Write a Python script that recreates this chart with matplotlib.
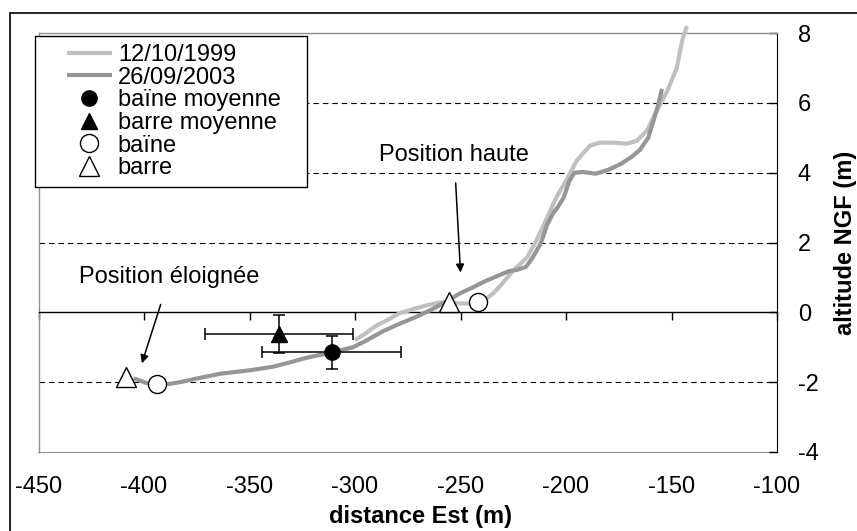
import numpy as np
import matplotlib.pyplot as plt
from matplotlib.patches import Rectangle

plt.rcParams['font.family'] = ['Liberation Sans', 'DejaVu Sans']
plt.rcParams['axes.unicode_minus'] = False

# profil du 12/10/1999 (distance Est, altitude NGF)
x_1999 = [-300, -295, -289.6, -284, -279, -272, -266, -260, -252, -245, -240,
          -237.5, -234, -231, -225, -218.5, -214, -209, -204.5, -200, -195,
          -188.7, -184, -177.6, -171, -166.5, -161.7, -157, -152, -147.5,
          -145, -142.7]
z_1999 = [-0.8, -0.6, -0.37, -0.2, -0.03, 0.1, 0.2, 0.28, 0.26, 0.25, 0.28,
          0.4, 0.57, 0.77, 1.2, 1.57, 2.06, 2.7, 3.3, 3.77, 4.34,
          4.77, 4.86, 4.86, 4.83, 4.91, 5.2, 5.77, 6.34, 7.0,
          7.77, 8.2]

# profil du 26/09/2003
x_2003 = [-405, -399, -394, -388, -383, -373, -364, -350, -339, -330, -323,
          -311, -301, -295, -287, -279, -271, -263, -256, -250, -244, -238,
          -231, -227, -223, -219, -216, -212, -209, -206, -204, -201, -198.5,
          -196, -192, -186, -180, -174, -169, -165, -161, -159, -156.5, -154.5]
z_2003 = [-1.89, -2.02, -2.08, -2.05, -2.0, -1.87, -1.76, -1.66, -1.56, -1.42, -1.3,
          -1.15, -1.0, -0.82, -0.55, -0.33, -0.13, 0.1, 0.34, 0.55, 0.72, 0.9,
          1.08, 1.18, 1.22, 1.3, 1.55, 1.97, 2.5, 2.85, 3.0, 3.3, 3.75,
          4.0, 4.02, 3.97, 4.08, 4.25, 4.45, 4.65, 5.0, 5.4, 5.9, 6.4]

# positions moyennes avec écarts
baine_moy = (-311, -1.15)
baine_moy_err = (33, 0.46)
barre_moy = (-336, -0.63)
barre_moy_err = (35, 0.54)

# positions extrêmes
baine_x = [-394, -241.7]
baine_z = [-2.06, 0.29]
barre_x = [-408.5, -255.5]
barre_z = [-1.86, 0.29]

grid_levels = [-2, 2, 4, 6]

fig = plt.figure(figsize=(8.57, 5.31), dpi=100)
ax = fig.add_axes([38.5 / 857, 79 / 531, 738.5 / 857, 419 / 531])

# cadre extérieur
fig.patches.append(Rectangle((10 / 857, -0.05), 1.0, 0.05 + 518 / 531,
                             transform=fig.transFigure, fill=False,
                             edgecolor='black', linewidth=1.2))

ax.set_xlim(-450, -100)
ax.set_ylim(-4, 8)

ax.hlines(grid_levels, -450, -100, colors='black', linestyles=(0, (5, 3.5)),
          linewidth=0.8, zorder=1)

l1999, = ax.plot(x_1999, z_1999, color='#c0c0c0', linewidth=3, label='12/10/1999',
                 zorder=3, clip_on=False, solid_capstyle='butt')
l2003, = ax.plot(x_2003, z_2003, color='#969696', linewidth=3, label='26/09/2003',
                 zorder=3, solid_capstyle='butt')

eb1 = ax.errorbar(*baine_moy, xerr=baine_moy_err[0], yerr=baine_moy_err[1],
                  fmt='o', color='black', markersize=11, elinewidth=1.1,
                  capsize=4.3, capthick=1.1, zorder=4)
eb2 = ax.errorbar(*barre_moy, xerr=barre_moy_err[0], yerr=barre_moy_err[1],
                  fmt='^', color='black', markersize=11, elinewidth=1.1,
                  capsize=4.3, capthick=1.1, zorder=4)
lbaine, = ax.plot(baine_x, baine_z, 'o', markerfacecolor='white', markeredgecolor='black',
                  markersize=13, markeredgewidth=1.0, linestyle='none', zorder=5)
lbarre, = ax.plot(barre_x, barre_z, '^', markerfacecolor='white', markeredgecolor='black',
                  markersize=14, markeredgewidth=1.0, linestyle='none', zorder=5)

ax.annotate('Position haute', xy=(-250, 1.14), xytext=(-253, 4.5),
            fontsize=17, ha='center', va='center',
            arrowprops=dict(arrowstyle='-|>', color='black', lw=1.1,
                            mutation_scale=12, shrinkA=10, shrinkB=0))
ax.annotate('Position éloignée', xy=(-401, -1.46), xytext=(-388, 1.0),
            fontsize=17, ha='center', va='center',
            arrowprops=dict(arrowstyle='-|>', color='black', lw=1.1,
                            mutation_scale=12, shrinkA=10, shrinkB=0))

# axes
for side in ['top', 'left']:
    ax.spines[side].set_color('#909090')
    ax.spines[side].set_linewidth(1.0)
ax.spines['right'].set_color('black')
ax.spines['bottom'].set_position(('data', 0))
ax.spines['bottom'].set_color('black')
ax.spines['bottom'].set_linewidth(1.0)

ax.set_xticks(np.arange(-450, -99, 50))
ax.tick_params(axis='x', direction='out', length=6, width=1, labelbottom=False)

sec = ax.secondary_xaxis('bottom')
sec.set_xticks(np.arange(-450, -99, 50))
sec.tick_params(length=0, pad=17, labelsize=17)
sec.spines['bottom'].set_color('#909090')

ax.yaxis.tick_right()
ax.yaxis.set_label_position('right')
ax.set_yticks(np.arange(-4, 9, 2))
ax.tick_params(axis='y', direction='in', length=6, width=1, pad=15, labelsize=17)
for lab in ax.get_yticklabels():
    lab.set_horizontalalignment('left')

ax.set_xlabel('distance Est (m)', fontsize=17, fontweight='bold', va='center')
ax.xaxis.set_label_coords(0.517, -0.153)
ax.set_ylabel('altitude NGF (m)', fontsize=17, fontweight='bold', va='center')
ax.yaxis.set_label_coords(1.0934, 0.5)

# légende
ax.add_patch(Rectangle((-0.0047, 0.632), 0.368, 0.360, transform=ax.transAxes,
                       facecolor='white', edgecolor='black', linewidth=1.0,
                       clip_on=False, zorder=6))
handles = [l1999, l2003, eb1[0], eb2[0], lbaine, lbarre]
labels = ['12/10/1999', '26/09/2003', 'baïne moyenne', 'barre moyenne', 'baïne', 'barre']
leg = ax.legend(handles, labels, loc='upper left', bbox_to_anchor=(0.0386, 0.974),
                frameon=False, fontsize=17, borderpad=0, borderaxespad=0,
                handlelength=1.9, handletextpad=0.25, labelspacing=0.03)
leg.set_zorder(7)

fig.savefig('out.png', dpi=100)
